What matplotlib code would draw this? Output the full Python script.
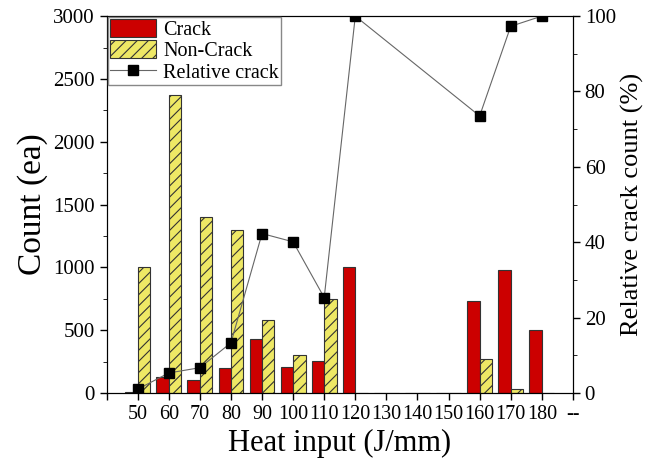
import numpy as np
import matplotlib
matplotlib.use("Agg")
from matplotlib import pyplot as plt
from matplotlib.ticker import MultipleLocator

plt.rcParams['font.family'] = ['Liberation Serif', 'DejaVu Serif']
plt.rcParams['hatch.color'] = '#404040'
plt.rcParams['hatch.linewidth'] = 0.8

heat = [50, 60, 70, 80, 90, 100, 110, 120, 130, 140, 150, 160, 170, 180]
crack = [10, 130, 100, 200, 427, 204, 255, 1000, 0, 0, 0, 735, 975, 500]
non_crack = [1000, 2370, 1400, 1300, 580, 305, 750, 0, 0, 0, 0, 268, 30, 0]
rel_heat = [50, 60, 70, 80, 90, 100, 110, 120, 160, 170, 180]
rel_crack = [1.0, 5.3, 6.7, 13.3, 42.3, 40.1, 25.3, 100, 73.5, 97.3, 100]

pos = np.arange(1, len(heat) + 1)
rel_pos = [pos[heat.index(h)] for h in rel_heat]

fig, ax = plt.subplots(figsize=(6.54, 4.74), dpi=100)
fig.subplots_adjust(left=0.163, right=0.876, top=0.966, bottom=0.171)

w = 0.4
b1 = ax.bar(pos - w / 2, crack, w, color='#cc0000', edgecolor='#333333', linewidth=0.8, label='Crack')
b2 = ax.bar(pos + w / 2, non_crack, w, color='#eee865', edgecolor='#333333', linewidth=0.8,
            hatch='///', label='Non-Crack')

ax.set_xlim(0, len(heat) + 1)
ax.set_ylim(0, 3000)
ax.set_xticks(np.arange(0, len(heat) + 2))
ax.set_xticklabels([''] + [str(h) for h in heat] + ['--'])
ax.yaxis.set_major_locator(MultipleLocator(500))
ax.yaxis.set_minor_locator(MultipleLocator(250))
ax.tick_params(direction='out', labelsize=15, length=5, width=1)
ax.tick_params(which='minor', direction='out', length=3)
ax.tick_params(axis='x', labelsize=14.5)
ax.set_xlabel('Heat input (J/mm)', fontsize=22)
ax.set_ylabel('Count (ea)', fontsize=24)

ax2 = ax.twinx()
l1, = ax2.plot(rel_pos, rel_crack, color='#666666', linewidth=0.8, marker='s',
               markersize=7.5, markerfacecolor='black', markeredgecolor='black', label='Relative crack')
ax2.set_ylim(0, 100)
ax2.yaxis.set_major_locator(MultipleLocator(20))
ax2.yaxis.set_minor_locator(MultipleLocator(10))
ax2.tick_params(direction='out', labelsize=15, length=5, width=1)
ax2.tick_params(which='minor', direction='out', length=3)
ax2.set_ylabel('Relative crack count (%)', fontsize=19)

leg = ax2.legend([b1, b2, l1], ['Crack', 'Non-Crack', 'Relative crack'], loc='upper left',
                 fontsize=14.5, fancybox=False, edgecolor='#888888', framealpha=1,
                 borderaxespad=0.05, handlelength=2.3, handleheight=1.0, labelspacing=0.02,
                 borderpad=0.1, handletextpad=0.35)

plt.savefig('out.png', dpi=100)
